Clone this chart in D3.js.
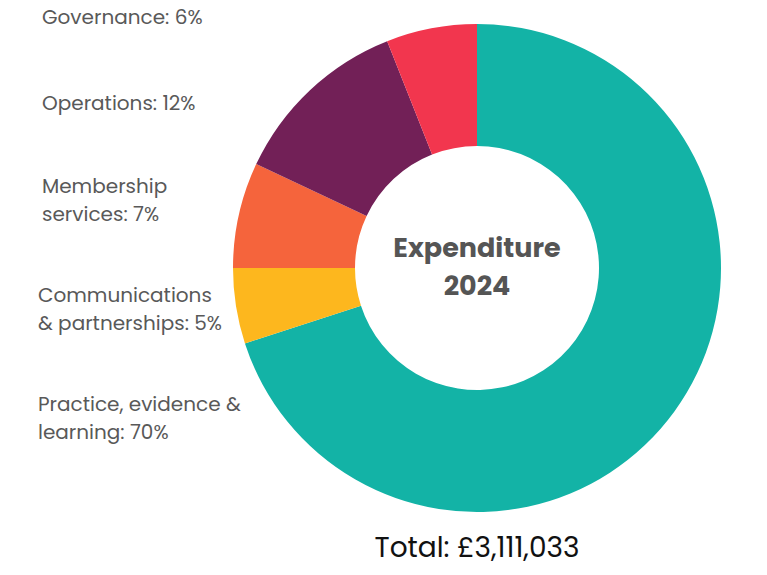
<!DOCTYPE html>
<html><head><meta charset="utf-8">
<script src="https://cdn.jsdelivr.net/npm/d3@7/dist/d3.min.js"></script>
<style>html,body{margin:0;padding:0;background:#fff;}</style>
</head><body>
<svg id="chart" width="767" height="575"></svg>
<script>
const categories = ["Practice, evidence & learning", "Communications & partnerships", "Membership services", "Operations", "Governance"];
const values = [70, 5, 7, 12, 6];
const colors = ["#13b3a6", "#fdb71e", "#f5643c", "#722057", "#f2364e"];
const labelLines = [["Practice, evidence &", "learning: 70%"], ["Communications", "& partnerships: 5%"], ["Membership", "services: 7%"], ["Operations: 12%"], ["Governance: 6%"]];
const title = ["Expenditure", "2024"];
const totalText = "Total: £3,111,033";

// layout (not data)
const labelPos = [[38, 411], [38, 302], [42, 193], [42, 110], [42, 24]];
const cx = 477, cy = 268, rOuter = 244, rInner = 122;
const font = "Poppins, 'Open Sans', Inter, sans-serif";

const svg = d3.select("#chart");
const g = svg.append("g").attr("transform", `translate(${cx},${cy})`);
const pie = d3.pie().sort(null).value(d => d);
const arc = d3.arc().innerRadius(rInner).outerRadius(rOuter);
g.selectAll("path").data(pie(values)).join("path")
  .attr("d", arc).attr("fill", (d, i) => colors[i]);

g.selectAll("text.title").data(title).join("text")
  .attr("class", "title")
  .attr("x", 0).attr("y", (d, i) => -11 + i * 38)
  .attr("text-anchor", "middle")
  .attr("font-family", font).attr("font-weight", 700).attr("font-size", 27)
  .attr("fill", "#555555").text(d => d);

labelLines.forEach((lines, i) => {
  const t = svg.append("text").attr("font-family", font).attr("font-size", 20).attr("fill", "#595959");
  lines.forEach((ln, j) => {
    t.append("tspan").attr("x", labelPos[i][0]).attr("y", labelPos[i][1] + j * 27.5).text(ln);
  });
});

svg.append("text").attr("x", cx).attr("y", 557).attr("text-anchor", "middle")
  .attr("font-family", font).attr("font-size", 28).attr("fill", "#111").text(totalText);
</script>
</body></html>
